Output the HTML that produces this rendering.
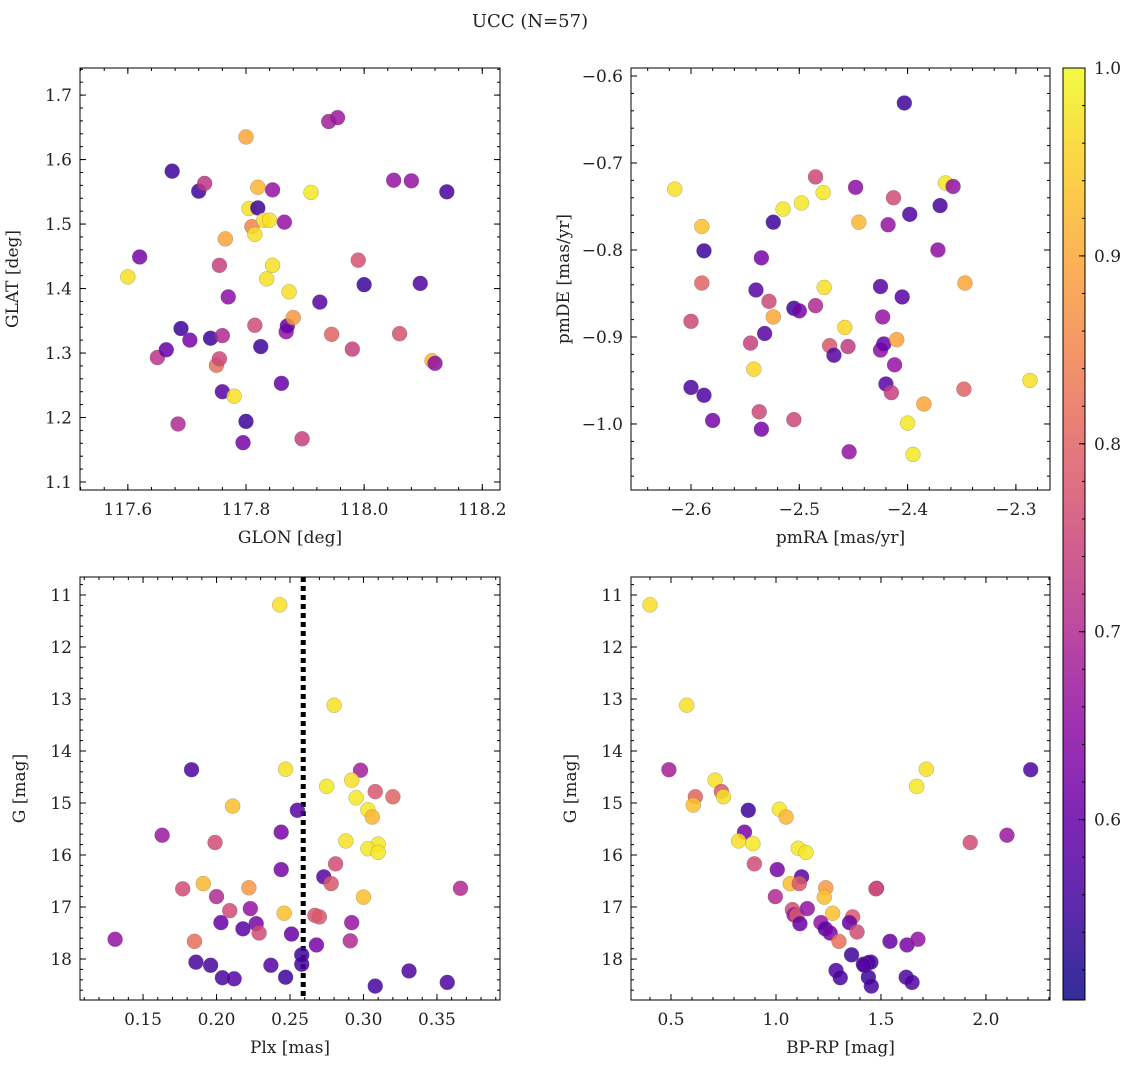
<!DOCTYPE html>
<html><head><meta charset="utf-8"><style>
body{margin:0;background:#fff}
svg text{font-family:"DejaVu Serif","Liberation Serif",serif;fill:#222}
</style></head><body>
<svg id="fig" width="1136" height="1067" xmlns="http://www.w3.org/2000/svg">
<text x="530" y="27" font-size="18" text-anchor="middle">UCC (N=57)</text>
</svg>
<script>
// Panel 1: GLON vs GLAT
const glon1=[117.60,117.62,117.675,117.65,117.665,117.685,117.69,117.705,117.72,117.73,117.74,117.75,117.755,117.755,117.76,117.76,117.765,117.77,117.78,117.795,117.80,117.80,117.805,117.81,117.815,117.815,117.82,117.82,117.825,117.83,117.835,117.84,117.845,117.845,117.86,117.865,117.868,117.87,117.873,117.88,117.895,117.91,117.925,117.94,117.945,117.955,117.98,117.99,118.0,118.05,118.06,118.08,118.095,118.115,118.12,118.14];
const glat1=[1.418,1.449,1.582,1.293,1.305,1.19,1.338,1.32,1.551,1.563,1.323,1.281,1.291,1.436,1.327,1.24,1.477,1.387,1.233,1.161,1.635,1.194,1.524,1.496,1.343,1.484,1.557,1.525,1.31,1.506,1.415,1.506,1.553,1.436,1.253,1.503,1.333,1.342,1.395,1.355,1.167,1.549,1.379,1.659,1.329,1.665,1.306,1.444,1.406,1.568,1.33,1.567,1.408,1.288,1.284,1.55];
const prob1=[0.97,0.62,0.55,0.72,0.6,0.7,0.55,0.62,0.55,0.72,0.55,0.82,0.75,0.74,0.7,0.58,0.9,0.65,0.97,0.62,0.9,0.55,0.97,0.85,0.76,0.97,0.92,0.55,0.55,0.97,0.97,0.97,0.66,0.97,0.6,0.66,0.66,0.6,0.97,0.88,0.74,0.98,0.58,0.68,0.8,0.67,0.74,0.77,0.55,0.66,0.77,0.66,0.57,0.92,0.65,0.56];
// Panel 2: pmRA vs pmDE
const pmra2=[-2.615,-2.59,-2.588,-2.59,-2.60,-2.60,-2.588,-2.58,-2.545,-2.542,-2.54,-2.537,-2.535,-2.535,-2.532,-2.528,-2.524,-2.524,-2.515,-2.505,-2.505,-2.5,-2.498,-2.485,-2.485,-2.478,-2.477,-2.472,-2.468,-2.458,-2.455,-2.454,-2.448,-2.445,-2.425,-2.425,-2.423,-2.422,-2.42,-2.418,-2.415,-2.413,-2.412,-2.41,-2.405,-2.403,-2.4,-2.398,-2.395,-2.385,-2.372,-2.37,-2.365,-2.358,-2.348,-2.347,-2.287];
const pmde2=[-0.73,-0.773,-0.801,-0.838,-0.882,-0.958,-0.967,-0.996,-0.907,-0.937,-0.846,-0.986,-1.006,-0.809,-0.896,-0.859,-0.877,-0.768,-0.753,-0.867,-0.995,-0.87,-0.746,-0.864,-0.716,-0.734,-0.843,-0.91,-0.921,-0.889,-0.911,-1.032,-0.728,-0.768,-0.842,-0.915,-0.877,-0.908,-0.954,-0.771,-0.964,-0.74,-0.932,-0.903,-0.854,-0.631,-0.999,-0.759,-1.035,-0.977,-0.8,-0.749,-0.723,-0.727,-0.96,-0.838,-0.95];
const prob2=[0.97,0.93,0.55,0.8,0.75,0.57,0.57,0.62,0.74,0.96,0.58,0.75,0.62,0.62,0.58,0.75,0.9,0.55,0.98,0.55,0.75,0.62,0.98,0.7,0.75,0.98,0.97,0.78,0.58,0.96,0.73,0.66,0.65,0.92,0.58,0.65,0.66,0.6,0.58,0.66,0.74,0.76,0.66,0.9,0.58,0.55,0.98,0.57,0.98,0.9,0.65,0.56,0.98,0.66,0.8,0.9,0.97];
// Panel 3: Plx vs G
const plx3=[0.243,0.280,0.183,0.247,0.298,0.275,0.292,0.308,0.320,0.295,0.211,0.255,0.303,0.306,0.163,0.244,0.199,0.288,0.310,0.303,0.310,0.281,0.244,0.273,0.278,0.191,0.177,0.222,0.366,0.300,0.200,0.209,0.223,0.246,0.267,0.270,0.203,0.227,0.292,0.218,0.229,0.251,0.268,0.131,0.185,0.291,0.258,0.186,0.196,0.237,0.258,0.331,0.204,0.212,0.247,0.357,0.308];
const g3=[11.19,13.12,14.36,14.35,14.37,14.68,14.56,14.78,14.88,14.9,15.06,15.14,15.13,15.27,15.62,15.56,15.76,15.73,15.79,15.88,15.95,16.17,16.28,16.42,16.55,16.55,16.65,16.63,16.64,16.81,16.8,17.07,17.03,17.12,17.16,17.19,17.3,17.32,17.3,17.42,17.5,17.52,17.73,17.62,17.66,17.65,17.92,18.06,18.12,18.12,18.1,18.23,18.36,18.38,18.35,18.45,18.52];
const prob3=[0.97,0.97,0.57,0.97,0.68,0.98,0.97,0.78,0.8,0.98,0.93,0.58,0.98,0.92,0.67,0.62,0.76,0.97,0.98,0.98,0.98,0.76,0.62,0.58,0.78,0.92,0.76,0.88,0.7,0.93,0.7,0.76,0.66,0.93,0.78,0.78,0.6,0.62,0.66,0.58,0.76,0.6,0.62,0.66,0.82,0.7,0.55,0.56,0.56,0.58,0.56,0.57,0.56,0.58,0.55,0.57,0.56];
const plxLine=0.259;
// Panel 4: BP-RP vs G
const bprp4=[0.40,0.575,0.49,0.71,0.74,0.75,0.616,0.606,0.868,1.016,1.048,0.85,0.822,0.89,1.106,1.143,0.897,1.006,1.122,1.068,1.111,1.237,1.479,1.476,0.997,1.23,1.078,1.086,1.10,1.149,1.27,1.365,1.114,1.214,1.35,1.235,1.258,1.386,1.30,1.543,1.624,1.676,1.36,1.452,1.44,1.416,1.42,1.286,1.306,1.44,1.62,1.648,1.454,1.67,1.716,1.925,2.10,2.213];
const g4=[11.19,13.12,14.36,14.56,14.78,14.88,14.88,15.04,15.14,15.12,15.27,15.56,15.73,15.78,15.87,15.95,16.17,16.28,16.42,16.55,16.55,16.63,16.64,16.65,16.8,16.81,17.05,17.15,17.16,17.03,17.12,17.19,17.32,17.3,17.3,17.42,17.5,17.48,17.66,17.66,17.73,17.62,17.92,18.06,18.07,18.1,18.12,18.22,18.36,18.35,18.35,18.45,18.52,14.68,14.35,15.76,15.62,14.36];
const prob4=[0.97,0.97,0.68,0.97,0.78,0.97,0.8,0.93,0.55,0.98,0.92,0.62,0.97,0.98,0.98,0.98,0.76,0.62,0.58,0.93,0.78,0.88,0.7,0.76,0.7,0.93,0.76,0.66,0.78,0.66,0.93,0.78,0.6,0.66,0.6,0.58,0.62,0.76,0.82,0.6,0.62,0.66,0.55,0.56,0.57,0.56,0.58,0.57,0.56,0.55,0.57,0.57,0.56,0.98,0.97,0.76,0.67,0.57];
const cbTicks=[0.6,0.7,0.8,0.9,1.0];
const cmin=0.504,cmax=1.0;

const NS="http://www.w3.org/2000/svg";
const svg=document.getElementById('fig');
function mk(tag,at,parent){const e=document.createElementNS(NS,tag);for(const k in at)e.setAttribute(k,at[k]);(parent||svg).appendChild(e);return e;}
const stops=[[0,13,8,135],[0.1,65,4,157],[0.2,106,0,168],[0.3,143,13,164],[0.4,177,42,144],[0.5,204,71,120],[0.6,225,100,98],[0.7,242,132,75],[0.8,252,166,54],[0.9,252,206,37],[1,240,249,33]];
function plasma(t){t=Math.max(0,Math.min(1,t));for(let i=1;i<stops.length;i++){if(t<=stops[i][0]){const a=stops[i-1],b=stops[i],f=(t-a[0])/(b[0]-a[0]);return `rgb(${Math.round(a[1]+f*(b[1]-a[1]))},${Math.round(a[2]+f*(b[2]-a[2]))},${Math.round(a[3]+f*(b[3]-a[3]))})`;}}return 'rgb(240,249,33)';}
function cm(v){return plasma((v-cmin)/(cmax-cmin));}
function fmt(v,d){return v<0?'\u2212'+Math.abs(v).toFixed(d):v.toFixed(d);}

function panel(name,L,T,R,B,xr,yr,xt,xm,yt,ym,xd,yd,xl,yl,xs,ys,cs,line){
  const g=mk('g',{});
  
  
  const X=v=>L+(v-xr[0])/(xr[1]-xr[0])*(R-L);
  const Y=v=>T+(v-yr[0])/(yr[1]-yr[0])*(B-T);
  if(line!==undefined){const ln=mk('line',{x1:X(line),x2:X(line),y1:T,y2:B,stroke:'#000','stroke-width':5,'stroke-dasharray':'5,4'},g);
    
    }
  for(let i=0;i<xs.length;i++){
    const c=mk('circle',{cx:X(xs[i]),cy:Y(ys[i]),r:7.5,fill:cm(cs[i]),'fill-opacity':0.85,stroke:'#666','stroke-opacity':0.5,'stroke-width':0.5},g);
    
    
  }
  mk('rect',{x:L,y:T,width:R-L,height:B-T,fill:'none',stroke:'#000','stroke-width':1},g);
  const xmin=Math.min(...xr),xmax=Math.max(...xr),ymin=Math.min(...yr),ymax=Math.max(...yr);
  for(let v=Math.ceil(xmin/xm-1e-6)*xm;v<=xmax+1e-9;v+=xm){const x=X(v);mk('line',{x1:x,x2:x,y1:B,y2:B-3,stroke:'#000'},g);mk('line',{x1:x,x2:x,y1:T,y2:T+3,stroke:'#000'},g);}
  for(let v=Math.ceil(ymin/ym-1e-6)*ym;v<=ymax+1e-9;v+=ym){const y=Y(v);mk('line',{x1:L,x2:L+3,y1:y,y2:y,stroke:'#000'},g);mk('line',{x1:R,x2:R-3,y1:y,y2:y,stroke:'#000'},g);}
  xt.forEach(v=>{const x=X(v);mk('line',{x1:x,x2:x,y1:B,y2:B-6,stroke:'#000'},g);mk('line',{x1:x,x2:x,y1:T,y2:T+6,stroke:'#000'},g);
    const t=mk('text',{x:x,y:B+25,'font-size':17,'text-anchor':'middle'},g);t.textContent=fmt(v,xd);
    
    });
  yt.forEach(v=>{const y=Y(v);mk('line',{x1:L,x2:L+6,y1:y,y2:y,stroke:'#000'},g);mk('line',{x1:R,x2:R-6,y1:y,y2:y,stroke:'#000'},g);
    const t=mk('text',{x:L-8,y:y+6,'font-size':17,'text-anchor':'end'},g);t.textContent=fmt(v,yd);
    
    });
  const xt2=mk('text',{x:(L+R)/2,y:B+53,'font-size':17,'text-anchor':'middle'},g);xt2.textContent=xl;
  
  
  const yc=(T+B)/2,yx=L-(yd===0?55:62);
  const yt2=mk('text',{x:yx,y:yc,'font-size':17,'text-anchor':'middle',transform:`rotate(-90 ${yx} ${yc})`},g);yt2.textContent=yl;
  
  
}
panel('panel-glon-glat',80,68,500,490,[117.519,118.23],[1.742,1.0876],[117.6,117.8,118.0,118.2],0.04,[1.1,1.2,1.3,1.4,1.5,1.6,1.7],0.02,1,1,'GLON [deg]','GLAT [deg]',glon1,glat1,prob1);
panel('panel-pm',631,68,1050,490,[-2.6554,-2.2685],[-0.5908,-1.0759],[-2.6,-2.5,-2.4,-2.3],0.02,[-1.0,-0.9,-0.8,-0.7,-0.6],0.02,1,1,'pmRA [mas/yr]','pmDE [mas/yr]',pmra2,pmde2,prob2);
panel('panel-plx-g',80,577,500,1000,[0.1071,0.3929],[10.654,18.788],[0.15,0.2,0.25,0.3,0.35],0.01,[11,12,13,14,15,16,17,18],0.2,2,0,'Plx [mas]','G [mag]',plx3,g3,prob3,plxLine);
panel('panel-cmd',631,577,1050,1000,[0.3095,2.305],[10.654,18.788],[0.5,1.0,1.5,2.0],0.1,[11,12,13,14,15,16,17,18],0.2,1,0,'BP-RP [mag]','G [mag]',bprp4,g4,prob4);

// colorbar
const cb=mk('g',{});


const defs=mk('defs',{},cb);
const lg=mk('linearGradient',{id:'cbg',x1:0,y1:1,x2:0,y2:0},defs);
for(let i=0;i<=20;i++){mk('stop',{offset:i/20,'stop-color':plasma(i/20),'stop-opacity':0.85},lg);}
const CT=68,CB=1000,CL=1063,CR=1085;
mk('rect',{x:CL,y:CT,width:CR-CL,height:CB-CT,fill:'url(#cbg)',stroke:'#000','stroke-width':1},cb);
const CY=v=>CB-(v-cmin)/(cmax-cmin)*(CB-CT);
for(let v=0.52;v<=1.0001;v+=0.02){mk('line',{x1:CR,x2:CR-3,y1:CY(v),y2:CY(v),stroke:'#000'},cb);}
cbTicks.forEach(v=>{const y=CY(v);mk('line',{x1:CR,x2:CR-6,y1:y,y2:y,stroke:'#000'},cb);
  const t=mk('text',{x:CR+9,y:y+6,'font-size':17},cb);t.textContent=v.toFixed(1);
  
  });
</script>
</body></html>
